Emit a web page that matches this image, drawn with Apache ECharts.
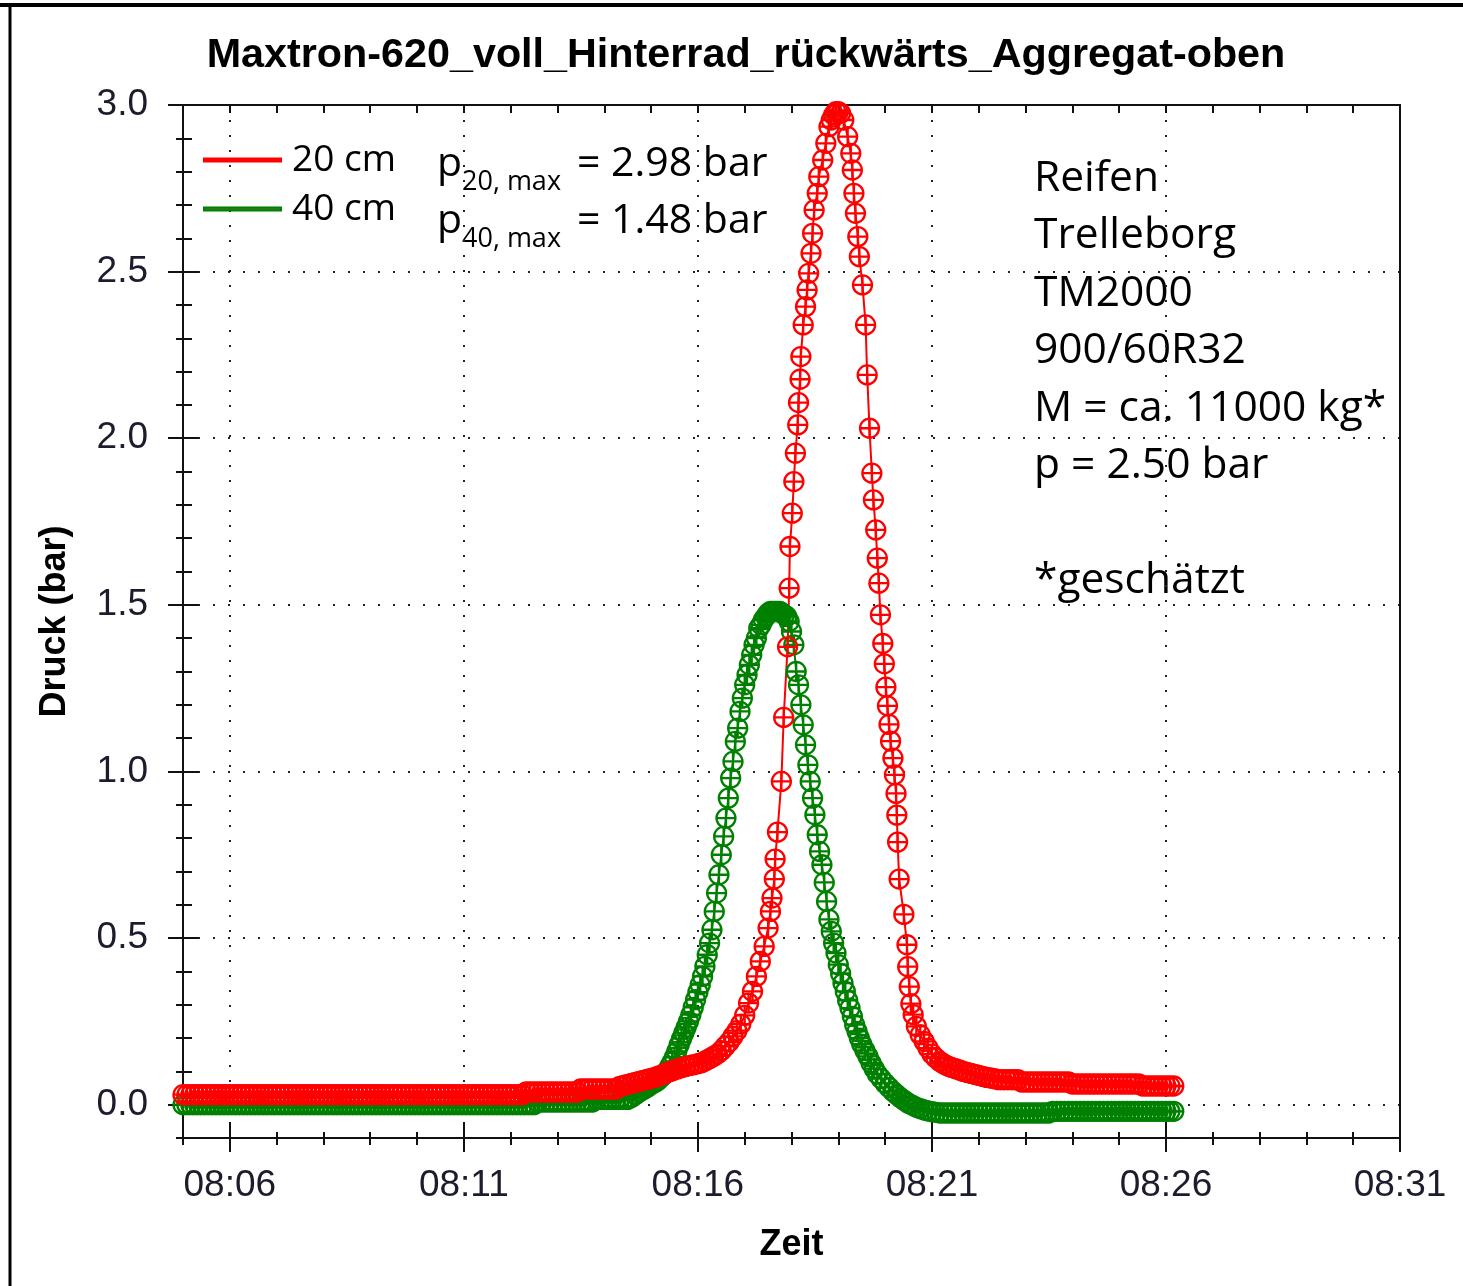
<!DOCTYPE html>
<html><head><meta charset="utf-8">
<script src="https://cdn.jsdelivr.net/npm/echarts@6/dist/echarts.min.js"></script>
<style>html,body{margin:0;padding:0;background:#fff}#c{width:1463px;height:1286px}</style>
</head><body><div id="c"></div>
<script>
// ---------- text ----------
const chartTitle = 'Maxtron-620_voll_Hinterrad_rückwärts_Aggregat-oben';
const xName = 'Zeit';
const yName = 'Druck (bar)';
const seriesNames = ['20 cm', '40 cm'];
const maxLabelMain = ['p', 'p'];
const maxLabelSub = ['20, max', '40, max'];
const maxLabelValue = ['= 2.98 bar', '= 1.48 bar'];
const infoLines = ['Reifen', 'Trelleborg', 'TM2000', '900/60R32', 'M = ca. 11000 kg*', 'p = 2.50 bar', '', '*geschätzt'];

// ---------- axes (x in seconds after 08:00) ----------
const xMin = 300, xMax = 1860;
const yMin = -0.1, yMax = 3.0;
const xTickValues = [360, 660, 960, 1260, 1560, 1860];
const xMinorTickValues = [300,360,420,480,540,600,660,720,780,840,900,960,1020,1080,1140,1200,1260,1320,1380,1440,1500,1560,1620,1680,1740,1800,1860];
const yTickValues = [0, 0.5, 1.0, 1.5, 2.0, 2.5, 3.0];
const yMinorTickValues = [-0.1,0,0.1,0.2,0.3,0.4,0.5,0.6,0.7,0.8,0.9,1.0,1.1,1.2,1.3,1.4,1.5,1.6,1.7,1.8,1.9,2.0,2.1,2.2,2.3,2.4,2.5,2.6,2.7,2.8,2.9,3.0];

// ---------- 20 cm (red) ----------
const redTime = [
300,305,310,315,320,325,330,335,340,345,350,355,360,365,370,375,380,385,390,395,
400,405,410,415,420,425,430,435,440,445,450,455,460,465,470,475,480,485,490,495,
500,505,510,515,520,525,530,535,540,545,550,555,560,565,570,575,580,585,590,595,
600,605,610,615,620,625,630,635,640,645,650,655,660,665,670,675,680,685,690,695,
700,705,710,715,720,725,730,735,
740,745,750,755,760,765,770,775,780,785,790,795,800,805,
810,815,820,825,830,835,840,845,850,855,
860,865,870,875,880,885,890,895,900,905,910,915,920,925,930,935,940,945,950,955,960,965,970,975,980,985,990,995,1000,1005,1010,1015,1020,1025,1030,1035,1040,1045,1050,
1053,1055,1058,1059,1062,1067,1070,1075,1077,1078,
1081,1083,1085,1088,1089,1091,1092,1095,1098,1100,
1102,1105,1107,1109,1113,1115,1120,1124,1128,1131,
1134,1137,1140,1143,1147,1152,1156,1158,1160,1162,
1165,1167,1171,1175,1177,1180,1183,1185,1188,1190,
1192,1194,1197,1199,1201,1203,1205,1207,1210,1212,
1214,1215,1216,1218,1224,1228,1229,1231,1233,1236,
1240,1245,1250,1255,1260,1265,1270,1275,1280,1285,1290,1295,1300,1305,1310,1315,1320,1325,1330,1335,1340,
1345,1350,1355,1360,1365,1370,
1375,1380,1385,1390,1395,1400,1405,1410,1415,1420,1425,1430,1435,
1440,1445,1450,1455,1460,1465,1470,1475,1480,1485,1490,1495,1500,1505,1510,1515,1520,1525,
1530,1535,1540,1545,1550,1555,1560,1565,1570
];
const redValue = [
0.03,0.03,0.03,0.03,0.03,0.03,0.03,0.03,0.03,0.03,0.03,0.03,0.03,0.03,0.03,0.03,0.03,0.03,0.03,0.03,
0.03,0.03,0.03,0.03,0.03,0.03,0.03,0.03,0.03,0.03,0.03,0.03,0.03,0.03,0.03,0.03,0.03,0.03,0.03,0.03,
0.03,0.03,0.03,0.03,0.03,0.03,0.03,0.03,0.03,0.03,0.03,0.03,0.03,0.03,0.03,0.03,0.03,0.03,0.03,0.03,
0.03,0.03,0.03,0.03,0.03,0.03,0.03,0.03,0.03,0.03,0.03,0.03,0.03,0.03,0.03,0.03,0.03,0.03,0.03,0.03,
0.03,0.03,0.03,0.03,0.03,0.03,0.03,0.03,
0.038,0.038,0.038,0.038,0.038,0.038,0.038,0.038,0.038,0.038,0.038,0.038,0.038,0.038,
0.047,0.047,0.047,0.047,0.047,0.047,0.047,0.047,0.047,0.047,
0.055,0.058,0.061,0.064,0.067,0.07,0.073,0.076,0.079,0.082,0.086,0.09,0.095,0.1,0.104,0.108,0.112,0.115,0.118,0.12,0.123,0.126,0.132,0.138,0.145,0.152,0.162,0.175,0.188,0.205,0.222,0.242,0.268,0.305,0.34,0.385,0.43,0.475,0.53,
0.58,0.62,0.677,0.737,0.818,0.97,1.162,1.374,1.55,1.675,
1.775,1.87,1.955,2.04,2.107,2.177,2.245,2.34,2.395,2.445,
2.495,2.555,2.615,2.685,2.735,2.785,2.835,2.885,2.935,2.955,
2.97,2.98,2.98,2.975,2.955,2.905,2.855,2.805,2.735,2.675,
2.605,2.545,2.46,2.34,2.19,2.03,1.895,1.815,1.725,1.64,
1.565,1.47,1.384,1.323,1.253,1.197,1.141,1.091,1.04,0.99,
0.934,0.869,0.788,0.677,0.571,0.48,0.414,0.354,0.303,0.27,
0.235,0.21,0.19,0.17,0.152,0.14,0.13,0.122,0.116,0.112,0.108,0.104,0.1,0.097,0.094,0.091,0.088,0.085,0.082,0.08,0.078,
0.075,0.075,0.075,0.075,0.075,0.075,
0.068,0.068,0.068,0.068,0.068,0.068,0.068,0.068,0.068,0.068,0.068,0.068,0.068,
0.062,0.062,0.062,0.062,0.062,0.062,0.062,0.062,0.062,0.062,0.062,0.062,0.062,0.062,0.062,0.062,0.062,0.062,
0.056,0.056,0.056,0.056,0.056,0.056,0.056,0.056,0.056
];

// ---------- 40 cm (green) ----------
const greenTime = [
300,305,310,315,320,325,330,335,340,345,350,355,360,365,370,375,380,385,390,395,
400,405,410,415,420,425,430,435,440,445,450,455,460,465,470,475,480,485,490,495,
500,505,510,515,520,525,530,535,540,545,550,555,560,565,570,575,580,585,590,595,
600,605,610,615,620,625,630,635,640,645,650,655,660,665,670,675,680,685,690,695,
700,705,710,715,720,725,730,735,740,745,750,
755,760,765,770,775,780,785,790,795,800,805,810,815,820,825,
830,835,840,845,850,855,860,865,870,
875,880,885,890,895,900,905,908,912,
915,918,921,924,927,930,933,936,939,942,945,948,951,954,957,960,963,966,969,972,
975,978,981,984,987,990,993,996,999,1002,1005,1008,1011,1014,1017,1020,1023,1026,1029,1032,
1035,1038,1041,1044,1047,1050,1053,1056,1059,1062,1065,1068,1071,1074,1077,1080,1083,1086,1089,1092,
1095,1098,1101,1104,1107,1110,1113,1116,1119,1122,1125,1128,1131,1134,1137,1140,1143,1146,1149,1152,
1155,1158,1161,1164,1167,1170,
1174,1178,1182,1186,1190,
1195,1200,1205,1210,1215,1220,1225,1230,1235,1240,1245,1250,1255,1260,1265,
1270,1275,1280,1285,1290,1295,1300,1305,1310,1315,1320,1325,1330,1335,1340,1345,1350,1355,1360,1365,1370,1375,1380,1385,1390,1395,1400,1405,1410,
1415,1420,1425,1430,1435,1440,1445,1450,1455,1460,1465,1470,1475,1480,1485,1490,1495,1500,1505,1510,1515,1520,1525,1530,1535,1540,1545,1550,1555,1560,1565,1570
];
const greenValue = [
0,0,0,0,0,0,0,0,0,0,0,0,0,0,0,0,0,0,0,0,
0,0,0,0,0,0,0,0,0,0,0,0,0,0,0,0,0,0,0,0,
0,0,0,0,0,0,0,0,0,0,0,0,0,0,0,0,0,0,0,0,
0,0,0,0,0,0,0,0,0,0,0,0,0,0,0,0,0,0,0,0,
0,0,0,0,0,0,0,0,0,0,0,
0.008,0.008,0.008,0.008,0.008,0.008,0.008,0.008,0.008,0.008,0.008,0.008,0.008,0.008,0.008,
0.016,0.016,0.016,0.016,0.016,0.016,0.016,0.016,0.016,
0.022,0.03,0.038,0.045,0.052,0.06,0.067,0.071,0.08,
0.088,0.095,0.101,0.115,0.128,0.143,0.16,0.18,0.198,0.215,0.232,0.25,0.27,0.292,0.315,0.338,0.36,0.385,0.415,0.45,
0.485,0.525,0.58,0.635,0.69,0.75,0.805,0.86,0.92,0.98,1.03,1.09,1.13,1.18,1.22,1.26,1.29,1.32,1.35,1.38,
1.40,1.43,1.44,1.455,1.465,1.475,1.48,1.48,1.48,1.48,1.48,1.475,1.47,1.465,1.45,1.42,1.38,1.30,1.26,1.20,
1.14,1.08,1.02,0.97,0.92,0.87,0.81,0.76,0.72,0.667,0.61,0.556,0.52,0.485,0.455,0.42,0.394,0.365,0.34,0.313,
0.29,0.265,0.24,0.22,0.2,0.182,
0.163,0.145,0.125,0.108,0.092,
0.078,0.064,0.052,0.04,0.03,0.02,0.012,0.004,-0.002,-0.008,-0.012,-0.016,-0.019,-0.021,-0.023,
-0.025,-0.025,-0.025,-0.025,-0.025,-0.025,-0.025,-0.025,-0.025,-0.025,-0.025,-0.025,-0.025,-0.025,-0.025,-0.025,-0.025,-0.025,-0.025,-0.025,-0.025,-0.025,-0.025,-0.025,-0.025,-0.025,-0.025,-0.025,-0.025,
-0.02,-0.02,-0.02,-0.02,-0.02,-0.02,-0.02,-0.02,-0.02,-0.02,-0.02,-0.02,-0.02,-0.02,-0.02,-0.02,-0.02,-0.02,-0.02,-0.02,-0.02,-0.02,-0.02,-0.02,-0.02,-0.02,-0.02,-0.02,-0.02,-0.02,-0.02,-0.02
];

// ---------- styling ----------
const RED = '#ff0000', GREEN = '#008000', LEG_GREEN = '#3d7a26';
const AX = '#111';
const LAB = '#1c1c2c';
const markerPath = 'path://M0,8A8,8,0,1,1,16,8A8,8,0,1,1,0,8ZM0,8L16,8M8,0L8,16';
const pairs = (t, v) => t.map((x, i) => [x, v[i]]);
const fmtTime = v => { const h = 8 + Math.floor(v / 3600); const m = Math.floor((v % 3600) / 60); return String(h).padStart(2, '0') + ':' + String(m).padStart(2, '0'); };

function xAx(extra) { return Object.assign({ type: 'value', min: xMin, max: xMax, position: 'bottom', axisLine: { show: false, onZero: false }, axisTick: { show: false }, axisLabel: { show: false }, splitLine: { show: false } }, extra); }
function yAx(extra) { return Object.assign({ type: 'value', min: yMin, max: yMax, position: 'left', axisLine: { show: false, onZero: false }, axisTick: { show: false }, axisLabel: { show: false }, splitLine: { show: false } }, extra); }

const chart = echarts.init(document.getElementById('c'), null, { renderer: 'canvas' });
chart.setOption({
  animation: false,
  backgroundColor: '#fff',
  title: { text: chartTitle, left: 741, top: 30, textAlign: 'center', textStyle: { fontFamily: 'Liberation Sans', fontWeight: 'bold', fontSize: 41.3, color: '#000' } },
  grid: { left: 183, right: 63, top: 105, bottom: 148, containLabel: false, outerBoundsMode: 'none' },
  legend: {
    orient: 'vertical', left: 203, top: 140, padding: 0, itemWidth: 77, itemHeight: 3, itemGap: 9,
    textStyle: { fontFamily: 'Open Sans', fontSize: 37, color: '#000', padding: [0, 0, 0, 6], lineHeight: 40 },
    data: [{ name: seriesNames[0], icon: 'rect', itemStyle: { color: RED } }, { name: seriesNames[1], icon: 'rect', itemStyle: { color: LEG_GREEN } }]
  },
  xAxis: [
    xAx({ axisLine: { show: true, onZero: false, lineStyle: { color: AX, width: 2 } },
      axisTick: { show: true, customValues: xTickValues, length: 14, lineStyle: { color: AX, width: 2 } },
      axisLabel: { show: true, customValues: xTickValues, formatter: fmtTime, margin: 29, fontFamily: 'Liberation Sans', fontSize: 37, color: LAB },
      splitLine: { show: true, lineStyle: { color: '#222', type: [2, 13], width: 2 } },
      name: xName, nameLocation: 'middle', nameGap: 89, nameTextStyle: { fontFamily: 'Liberation Sans', fontWeight: 'bold', fontSize: 36, color: '#000' } }),
    xAx({ axisTick: { show: true, inside: true, customValues: xTickValues, length: 16, lineStyle: { color: AX, width: 2 } } }),
    xAx({ axisTick: { show: true, customValues: xMinorTickValues, length: 7, lineStyle: { color: AX, width: 2 } } }),
    xAx({ axisTick: { show: true, inside: true, customValues: xMinorTickValues, length: 6, lineStyle: { color: AX, width: 2 } } }),
    xAx({ position: 'top', axisLine: { show: true, onZero: false, lineStyle: { color: AX, width: 2 } }, axisTick: { show: true, inside: true, customValues: xMinorTickValues, length: 8, lineStyle: { color: AX, width: 2 } } })
  ],
  yAxis: [
    yAx({ axisLine: { show: true, onZero: false, lineStyle: { color: AX, width: 2 } },
      axisTick: { show: true, customValues: yTickValues, length: 15, lineStyle: { color: AX, width: 2 } },
      axisLabel: { show: true, customValues: yTickValues, formatter: v => v.toFixed(1), margin: 35, fontFamily: 'Liberation Sans', fontSize: 37, color: LAB },
      splitLine: { show: true, lineStyle: { color: '#222', type: [2, 13], width: 2 } },
      name: yName, nameLocation: 'middle', nameGap: 110, nameRotate: 90, nameTextStyle: { fontFamily: 'Liberation Sans', fontWeight: 'bold', fontSize: 36, color: '#000' } }),
    yAx({ axisTick: { show: true, inside: true, customValues: yTickValues, length: 16, lineStyle: { color: AX, width: 2 } } }),
    yAx({ axisTick: { show: true, customValues: yMinorTickValues, length: 7, lineStyle: { color: AX, width: 2 } } }),
    yAx({ axisTick: { show: true, inside: true, customValues: yMinorTickValues, length: 9, lineStyle: { color: AX, width: 2 } } }),
    yAx({ position: 'right', axisLine: { show: true, onZero: false, lineStyle: { color: AX, width: 2 } } })
  ],
  series: [
    { name: seriesNames[1], type: 'line', data: pairs(greenTime, greenValue), clip: false,
      symbol: markerPath, symbolSize: 19, lineStyle: { color: GREEN, width: 2 },
      itemStyle: { color: 'rgba(0,0,0,0)', borderColor: GREEN, borderWidth: 2.3 } },
    { name: seriesNames[0], type: 'line', data: pairs(redTime, redValue), clip: false,
      symbol: markerPath, symbolSize: 19, lineStyle: { color: RED, width: 2 },
      itemStyle: { color: 'rgba(0,0,0,0)', borderColor: RED, borderWidth: 2.3 } }
  ],
  graphic: [
    { type: 'line', shape: { x1: 0, y1: 5, x2: 1463, y2: 5 }, style: { stroke: '#000', lineWidth: 4 } },
    { type: 'line', shape: { x1: 10, y1: 4, x2: 10, y2: 1286 }, style: { stroke: '#000', lineWidth: 3 } },
    { type: 'text', x: 437, y: 164, style: { text: maxLabelMain[0], font: '41px "Open Sans"', fill: '#000', verticalAlign: 'middle' } },
    { type: 'text', x: 462, y: 182, style: { text: maxLabelSub[0], font: '27px "Open Sans"', fill: '#000', verticalAlign: 'middle' } },
    { type: 'text', x: 577, y: 164, style: { text: maxLabelValue[0], font: '41px "Open Sans"', fill: '#000', verticalAlign: 'middle' } },
    { type: 'text', x: 437, y: 221, style: { text: maxLabelMain[1], font: '41px "Open Sans"', fill: '#000', verticalAlign: 'middle' } },
    { type: 'text', x: 462, y: 239, style: { text: maxLabelSub[1], font: '27px "Open Sans"', fill: '#000', verticalAlign: 'middle' } },
    { type: 'text', x: 577, y: 221, style: { text: maxLabelValue[1], font: '41px "Open Sans"', fill: '#000', verticalAlign: 'middle' } },
    { type: 'text', x: 1034, y: 150, style: { text: infoLines.join('\n'), font: '42.5px "Open Sans"', lineHeight: 57.5, fill: '#000', verticalAlign: 'top' } }
  ]
});
</script></body></html>
